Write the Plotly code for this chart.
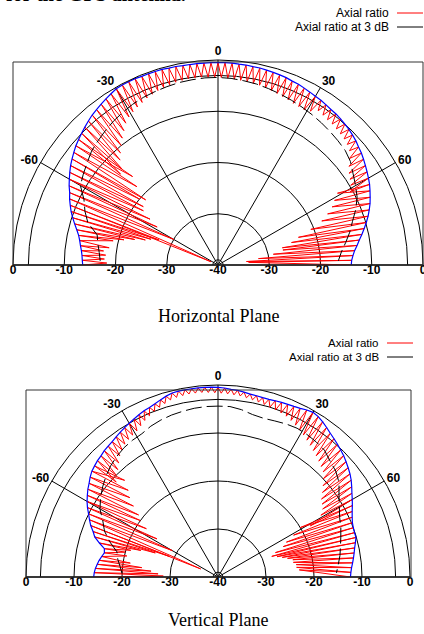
import plotly.graph_objects as go

W, H = 424, 634

# ---------------- data ----------------
theta_outer = list(range(-90, 91, 2))
inner_theta = [-89, -87, -85, -83, -81,
               -77, -75, -73, -71, -69, -67, -65,
               -60, -58, -56, -54, -52, -50, -48, -46, -44,
               -47, -45, -43, -41, -39, -37, -35, -33, -31, -29, -27, -25, -23, -21, -19, -17,
               -15, -13, -11, -9, -7, -5, -3, -1, 1, 3, 5, 7, 9, 11, 13, 15, 17, 19, 21, 23,
               25, 27, 29, 31, 33, 35, 37, 39, 41, 43, 45, 47, 49, 51, 53, 55, 57, 59, 61,
               59, 61, 63, 65, 67, 69, 71, 73, 75, 77, 79, 81, 83, 85]

h_outer = [-13.6, -13.5, -13.4, -13.2, -12.9, -12.6, -12.2, -11.6, -10.9, -10.2,
           -9.5, -8.9, -8.3, -7.8, -7.1, -6.5, -5.9, -5.3, -4.8, -4.3,
           -3.8, -3.4, -3.0, -2.6, -2.2, -1.8, -1.5, -1.2, -0.9, -0.6,
           -0.3, -0.2, -0.2, -0.2, -0.3, -0.3, -0.3, -0.3, -0.4, -0.4,
           -0.5, -0.5, -0.5, -0.5, -0.5, -0.5, -0.5, -0.5, -0.6, -0.6,
           -0.7, -0.7, -0.8, -0.9, -1.0, -1.1, -1.3, -1.4, -1.6, -1.8,
           -2.0, -2.1, -2.3, -2.5, -2.6, -2.8, -3.0, -3.2, -3.5, -3.8,
           -4.2, -4.5, -4.9, -5.3, -5.7, -6.1, -6.5, -7.0, -7.5, -8.0,
           -8.6, -9.2, -9.9, -10.6, -11.3, -12.0, -12.6, -13.2, -13.6, -13.9,
           -14.0]
h_inner = [-18.3, -17.8, -18.0, -17.5, -18.5, -19.0, -21.0, -23.0, -25.0, -26.0,
           -27.5, -38.5, -30.0, -26.0, -24.0, -22.0, -21.5, -20.0, -21.0, -18.0,
           -16.0, -14.0, -13.5, -12.0, -11.0, -10.0, -9.0, -8.0, -7.0, -6.3,
           -5.8, -5.4, -5.0, -4.6, -4.3, -4.0, -3.8, -3.6, -3.4, -3.3,
           -3.2, -3.2, -3.2, -3.3, -3.3, -3.4, -3.5, -3.6, -3.7, -3.8,
           -3.9, -4.0, -4.2, -4.4, -4.6, -4.8, -5.0, -5.2, -5.3, -5.4,
           -5.0, -4.1, -4.3, -4.5, -4.6, -4.8, -5.0, -5.2, -5.5, -6.0,
           -7.0, -8.0, -8.8, -9.3, -9.8, -10.5, -12.8, -14.0, -15.0, -16.4,
           -18.0, -20.6, -23.4, -25.0, -27.0, -27.0, -29.0, -32.0, -34.4, -34.0]

v_outer = [-14.1, -14.2, -14.4, -14.7, -15.0, -15.4, -15.8, -15.6, -14.3, -13.0,
           -12.3, -11.4, -10.7, -10.0, -9.2, -8.5, -7.9, -7.3, -6.8, -6.2,
           -5.7, -5.4, -5.1, -4.9, -4.6, -4.4, -4.2, -3.9, -3.6, -3.3,
           -3.0, -2.7, -2.4, -2.1, -1.9, -1.6, -1.2, -0.8, -0.5, -0.4,
           -0.4, -0.4, -0.4, -0.4, -0.4, -0.5, -0.6, -0.8, -0.9, -1.1,
           -1.3, -1.4, -1.5, -1.5, -1.4, -1.3, -1.2, -1.1, -0.9, -0.6,
           -0.4, -0.6, -1.0, -1.5, -2.0, -2.4, -2.8, -3.2, -3.6, -4.1,
           -4.6, -5.1, -5.7, -6.4, -7.1, -7.7, -8.3, -8.9, -9.4, -9.8,
           -10.0, -10.1, -10.1, -10.5, -10.9, -11.2, -11.5, -11.8, -12.1, -12.3,
           -12.4]
v_inner = [-28.6, -27.5, -26.0, -24.0, -21.5, -20.5, -20.0, -21.0, -23.0, -26.0,
           -29.0, -36.0, -29.0, -25.0, -22.0, -20.0, -19.0, -17.0, -15.3, -14.0,
           -12.0, -11.0, -10.0, -9.4, -8.5, -7.5, -6.8, -6.2, -5.8, -5.5,
           -5.2, -4.6, -4.0, -3.5, -3.0, -2.6, -2.2, -1.8, -1.6, -1.5,
           -1.4, -1.4, -1.4, -1.5, -1.6, -1.7, -1.8, -1.9, -2.0, -2.2,
           -2.4, -2.6, -2.8, -3.0, -3.2, -3.4, -3.6, -4.0, -4.5, -5.0,
           -5.5, -6.0, -6.5, -7.0, -7.5, -8.0, -8.5, -9.0, -10.0, -11.0,
           -12.0, -13.0, -13.5, -14.0, -15.0, -18.0, -20.0, -22.0, -24.0, -25.0,
           -27.0, -28.0, -27.0, -26.0, -25.0, -24.0, -24.0, -23.5, -23.5, -23.0]

ar3_theta = list(range(-88, 89, 4))
h_ar3 = [-17.0, -16.7, -16.2, -15.7, -13.3, -12.0, -10.9, -9.0, -8.3, -7.6, -6.8,
         -6.3, -5.8, -5.3, -4.9, -4.5, -4.2, -4.0, -3.8, -3.6, -3.5, -3.4,
         -3.4, -3.5, -3.7, -3.9, -4.2, -4.5, -4.8, -5.1, -5.4, -5.7, -6.0,
         -6.3, -6.6, -7.2, -8.2, -9.0, -9.8, -11.0, -12.4, -13.5, -14.7, -15.8, -16.5]
v_ar3 = [-20.0, -19.5, -18.8, -18.3, -16.3, -14.5, -13.3, -11.6, -10.5, -9.5, -8.6,
         -7.8, -7.2, -6.7, -6.4, -6.2, -5.6, -5.2, -4.9, -4.7, -4.5, -4.4,
         -4.4, -4.4, -4.8, -5.4, -5.6, -5.4, -5.1, -4.9, -5.0, -5.2, -5.5,
         -6.4, -7.0, -8.0, -9.6, -10.8, -11.8, -12.4, -13.1, -13.7, -14.2, -14.8, -15.3]

radial_labels_r = [0, -10, -20, -30, -40, -30, -20, -10, 0]
radial_labels_theta = [-90, -90, -90, -90, 0, 90, 90, 90, 90]
radial_labels_text = ["0", "-10", "-20", "-30", "-40", "-30", "-20", "-10", "0"]
angular_tickvals = [-90, -60, -30, 0, 30, 60, 90]
angular_ticktext = ["", "-60", "-30", "0", "30", "60", ""]
radial_gridvals = [-39, -30, -20, -10, -3, 0]


def zigzag(outer, inner):
    th, rr = [], []
    for i in range(len(inner)):
        th += [theta_outer[i], inner_theta[i]]
        rr += [outer[i], inner[i]]
    th.append(theta_outer[-1])
    rr.append(outer[-1])
    return th, rr


fig = go.Figure()

for sp, outer, inner, ar3 in [("polar", h_outer, h_inner, h_ar3),
                              ("polar2", v_outer, v_inner, v_ar3)]:
    zt, zr = zigzag(outer, inner)
    fig.add_trace(go.Scatterpolar(r=zr, theta=zt, mode="lines", subplot=sp,
                                  line=dict(color="#ff0000", width=1), showlegend=False))
    fig.add_trace(go.Scatterpolar(r=outer, theta=theta_outer, mode="lines", subplot=sp,
                                  line=dict(color="#0000ff", width=1.2), showlegend=False))
    fig.add_trace(go.Scatterpolar(r=ar3, theta=ar3_theta, mode="lines", subplot=sp,
                                  line=dict(color="black", width=1, dash="16px,5px"),
                                  showlegend=False))
    fig.add_trace(go.Scatterpolar(r=radial_labels_r, theta=radial_labels_theta, mode="text",
                                  subplot=sp, text=["<b>%s</b>" % t for t in radial_labels_text],
                                  textposition="bottom center", cliponaxis=False,
                                  textfont=dict(family="Liberation Sans", size=12, color="black"),
                                  showlegend=False))


def polar_layout(x0, x1, y0, y1):
    return dict(
        domain=dict(x=[x0 / W, x1 / W], y=[1 - y1 / H, 1 - y0 / H]),
        sector=[0, 180],
        bgcolor="white",
        radialaxis=dict(range=[-40, 0], tickmode="array", tickvals=radial_gridvals,
                        showticklabels=False, ticks="", showline=False,
                        gridcolor="black", gridwidth=1),
        angularaxis=dict(rotation=90, direction="clockwise", tickmode="array",
                         tickvals=angular_tickvals,
                         ticktext=["<b>%s</b>" % t if t else "" for t in angular_ticktext],
                         ticks="", showgrid=True, gridcolor="black", gridwidth=1,
                         showline=True, linecolor="black", linewidth=1,
                         tickfont=dict(family="Liberation Sans", size=12, color="black")),
    )


shapes = [
    dict(type="rect", xref="paper", yref="paper", x0=13 / W, x1=423 / W,
         y0=1 - 265 / H, y1=1 - 62 / H, line=dict(color="#333333", width=1)),
    dict(type="rect", xref="paper", yref="paper", x0=26 / W, x1=411 / W,
         y0=1 - 577 / H, y1=1 - 390 / H, line=dict(color="#333333", width=1)),
]
annotations = []
# legends (drawn manually: symbol to the right of text)
for (txt_x, lx0, lx1, ys, fs) in [(391, 397, 423, (13, 27), 12), (381, 387, 413, (343, 357), 11.5)]:
    for y, label, col in [(ys[0], "Axial ratio", "#ff0000"), (ys[1], "Axial ratio at 3 dB", "black")]:
        annotations.append(dict(x=txt_x / W, y=1 - y / H, xref="paper", yref="paper",
                                xanchor="right", yanchor="middle", showarrow=False, text=label,
                                font=dict(family="Liberation Sans", size=fs, color="black")))
        shapes.append(dict(type="line", xref="paper", yref="paper", x0=lx0 / W, x1=lx1 / W,
                           y0=1 - y / H, y1=1 - y / H, line=dict(color=col, width=1)))

annotations += [
    dict(x=218 / W, y=1 - 316 / H, xref="paper", yref="paper", showarrow=False,
         text="Horizontal Plane", xanchor="center", yanchor="middle",
         font=dict(family="Liberation Serif", size=18, color="black")),
    dict(x=218 / W, y=1 - 620 / H, xref="paper", yref="paper", showarrow=False,
         text="Vertical Plane", xanchor="center", yanchor="middle",
         font=dict(family="Liberation Serif", size=18, color="black")),
    dict(x=4 / W, y=1 - 6.5 / H, xref="paper", yref="paper", showarrow=False,
         text="<b>for the GPS antenna.</b>", xanchor="left", yanchor="bottom",
         font=dict(family="Liberation Serif", size=20, color="black")),
]

fig.update_layout(
    width=W, height=H,
    margin=dict(l=0, r=0, t=0, b=0),
    paper_bgcolor="white",
    showlegend=False,
    polar=polar_layout(13, 423, 60, 265),
    polar2=polar_layout(26, 410, 385, 577),
    shapes=shapes,
    annotations=annotations,
)

fig.write_html("out.html")
